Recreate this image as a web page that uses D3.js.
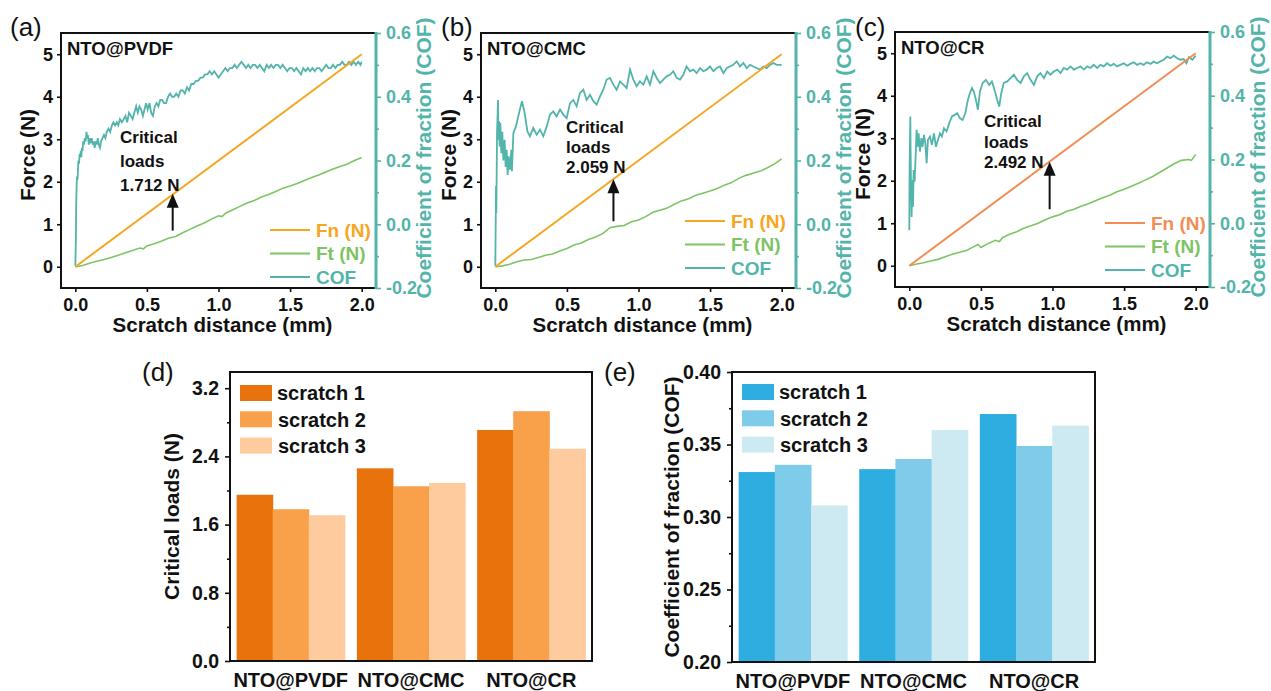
<!DOCTYPE html>
<html>
<head>
<meta charset="utf-8">
<script src="https://cdn.jsdelivr.net/npm/d3@7"></script>
<style>
body { margin: 0; background: #fff; }
svg text { font-family: "Liberation Sans", Arial, sans-serif; }
</style>
</head>
<body>
<svg id="fig" width="1271" height="691"></svg>
<script>
// ---- data ----
const binders = ["NTO@PVDF", "NTO@CMC", "NTO@CR"];
const scratchNames = ["scratch 1", "scratch 2", "scratch 3"];

// normal force ramps linearly 0 -> 5 N over 2 mm
const fnRamp = [[0, 0], [2, 5]];

// tangential force (N) vs distance (mm)
const ftPVDF = [[0,0],[0.05,0.03],[0.1,0.08],[0.15,0.13],[0.2,0.17],[0.25,0.22],[0.3,0.27],[0.35,0.33],[0.4,0.38],[0.45,0.44],[0.475,0.42],[0.5,0.49],[0.55,0.54],[0.6,0.6],[0.65,0.67],[0.7,0.71],[0.75,0.8],[0.8,0.88],[0.85,0.96],[0.9,1.03],[0.95,1.12],[1.0,1.2],[1.025,1.18],[1.05,1.26],[1.1,1.34],[1.15,1.42],[1.2,1.5],[1.25,1.56],[1.3,1.64],[1.35,1.7],[1.4,1.77],[1.45,1.85],[1.5,1.9],[1.55,1.96],[1.6,2.03],[1.65,2.1],[1.7,2.16],[1.75,2.23],[1.8,2.3],[1.85,2.36],[1.9,2.42],[1.95,2.5],[2.0,2.57]];
const ftCMC = [[0,0],[0.05,0.02],[0.1,0.06],[0.15,0.12],[0.2,0.16],[0.25,0.17],[0.3,0.22],[0.35,0.27],[0.4,0.3],[0.45,0.37],[0.5,0.43],[0.55,0.51],[0.6,0.56],[0.65,0.64],[0.7,0.7],[0.75,0.78],[0.8,0.92],[0.85,0.95],[0.9,0.97],[0.95,1.06],[1.0,1.1],[1.05,1.18],[1.1,1.28],[1.15,1.33],[1.2,1.38],[1.25,1.47],[1.3,1.55],[1.35,1.6],[1.4,1.68],[1.45,1.73],[1.5,1.78],[1.55,1.84],[1.6,1.92],[1.65,1.98],[1.7,2.08],[1.75,2.15],[1.8,2.2],[1.85,2.25],[1.9,2.33],[1.95,2.42],[2.0,2.54]];
const ftCR = [[0,0],[0.05,0.04],[0.1,0.07],[0.15,0.11],[0.2,0.15],[0.25,0.21],[0.3,0.27],[0.35,0.32],[0.4,0.36],[0.45,0.45],[0.48,0.5],[0.5,0.43],[0.55,0.52],[0.6,0.6],[0.63,0.57],[0.65,0.66],[0.7,0.74],[0.75,0.8],[0.8,0.88],[0.85,0.94],[0.9,1.0],[0.95,1.08],[1.0,1.15],[1.05,1.2],[1.1,1.28],[1.15,1.33],[1.2,1.4],[1.25,1.46],[1.3,1.53],[1.35,1.6],[1.4,1.66],[1.45,1.74],[1.5,1.8],[1.55,1.87],[1.6,1.94],[1.65,2.02],[1.7,2.1],[1.75,2.2],[1.8,2.3],[1.85,2.4],[1.9,2.48],[1.95,2.5],[1.97,2.48],[2.0,2.62]];

// coefficient of friction vs distance (mm)
const cofPVDF = [[0,-0.13],[0.004,-0.05],[0.006,0.06],[0.009,0.12],[0.012,0.15],[0.016,0.14],[0.019,0.18],[0.022,0.2],[0.026,0.19],[0.03,0.22],[0.034,0.21],[0.038,0.23],[0.042,0.21],[0.046,0.24],[0.05,0.23],[0.055,0.26],[0.06,0.25],[0.066,0.27],[0.072,0.26],[0.078,0.29],[0.083,0.27],[0.088,0.28],[0.094,0.25],[0.1,0.27],[0.107,0.26],[0.114,0.27],[0.121,0.25],[0.128,0.26],[0.135,0.24],[0.142,0.26],[0.15,0.25],[0.157,0.27],[0.164,0.25],[0.172,0.24],[0.18,0.26],[0.19,0.27],[0.2,0.28],[0.21,0.27],[0.22,0.29],[0.232,0.3],[0.244,0.29],[0.255,0.31],[0.266,0.32],[0.278,0.31],[0.29,0.32],[0.3,0.31],[0.312,0.33],[0.325,0.32],[0.338,0.33],[0.35,0.34],[0.362,0.32],[0.375,0.35],[0.388,0.34],[0.4,0.33],[0.412,0.35],[0.425,0.37],[0.436,0.35],[0.448,0.37],[0.46,0.36],[0.472,0.34],[0.483,0.36],[0.494,0.38],[0.505,0.36],[0.518,0.38],[0.53,0.35],[0.542,0.34],[0.555,0.37],[0.568,0.38],[0.58,0.37],[0.593,0.39],[0.606,0.39],[0.62,0.38],[0.634,0.38],[0.648,0.4],[0.662,0.41],[0.676,0.4],[0.69,0.4],[0.705,0.41],[0.72,0.4],[0.735,0.42],[0.75,0.42],[0.765,0.41],[0.78,0.43],[0.795,0.42],[0.81,0.44],[0.826,0.44],[0.842,0.45],[0.858,0.45],[0.874,0.46],[0.89,0.46],[0.906,0.47],[0.922,0.47],[0.938,0.48],[0.954,0.47],[0.97,0.48],[0.986,0.47],[1.0,0.46],[1.016,0.47],[1.032,0.48],[1.048,0.49],[1.064,0.48],[1.08,0.49],[1.096,0.49],[1.112,0.5],[1.128,0.49],[1.144,0.5],[1.16,0.51],[1.176,0.5],[1.192,0.49],[1.208,0.5],[1.224,0.49],[1.24,0.5],[1.256,0.5],[1.272,0.49],[1.288,0.5],[1.304,0.49],[1.32,0.48],[1.336,0.5],[1.352,0.49],[1.368,0.5],[1.384,0.49],[1.4,0.5],[1.416,0.5],[1.432,0.49],[1.448,0.5],[1.464,0.49],[1.48,0.48],[1.496,0.49],[1.512,0.49],[1.528,0.48],[1.544,0.49],[1.56,0.48],[1.576,0.47],[1.592,0.49],[1.608,0.48],[1.624,0.49],[1.64,0.48],[1.656,0.49],[1.672,0.48],[1.688,0.49],[1.704,0.49],[1.72,0.48],[1.736,0.49],[1.752,0.5],[1.768,0.49],[1.784,0.49],[1.8,0.5],[1.816,0.49],[1.832,0.5],[1.848,0.5],[1.864,0.51],[1.88,0.5],[1.896,0.5],[1.912,0.51],[1.928,0.5],[1.944,0.51],[1.96,0.5],[1.976,0.51],[1.992,0.5],[2.0,0.51]];
const cofCMC = [[0,-0.13],[0.005,0.12],[0.007,0.035],[0.012,0.286],[0.019,0.39],[0.021,0.265],[0.026,0.323],[0.03,0.244],[0.035,0.318],[0.042,0.223],[0.049,0.29],[0.056,0.2],[0.065,0.265],[0.072,0.18],[0.079,0.234],[0.086,0.155],[0.093,0.213],[0.102,0.171],[0.112,0.234],[0.116,0.166],[0.126,0.286],[0.144,0.307],[0.163,0.344],[0.186,0.386],[0.205,0.349],[0.224,0.291],[0.242,0.276],[0.265,0.302],[0.289,0.281],[0.312,0.297],[0.335,0.276],[0.359,0.307],[0.382,0.344],[0.405,0.354],[0.428,0.338],[0.452,0.36],[0.475,0.344],[0.498,0.333],[0.522,0.38],[0.545,0.39],[0.568,0.37],[0.591,0.412],[0.615,0.422],[0.638,0.39],[0.661,0.406],[0.685,0.386],[0.708,0.375],[0.731,0.401],[0.754,0.422],[0.778,0.454],[0.801,0.459],[0.824,0.438],[0.847,0.422],[0.871,0.448],[0.894,0.438],[0.917,0.427],[0.941,0.485],[0.964,0.454],[0.987,0.433],[1.01,0.448],[1.034,0.438],[1.057,0.464],[1.08,0.438],[1.104,0.48],[1.127,0.459],[1.15,0.443],[1.173,0.454],[1.197,0.464],[1.22,0.469],[1.243,0.48],[1.267,0.459],[1.29,0.454],[1.313,0.469],[1.336,0.495],[1.36,0.48],[1.383,0.485],[1.406,0.474],[1.43,0.49],[1.453,0.48],[1.476,0.485],[1.499,0.495],[1.523,0.48],[1.546,0.49],[1.569,0.495],[1.593,0.474],[1.616,0.49],[1.639,0.495],[1.662,0.5],[1.686,0.511],[1.709,0.495],[1.732,0.506],[1.756,0.49],[1.779,0.5],[1.802,0.495],[1.825,0.49],[1.849,0.485],[1.872,0.495],[1.895,0.49],[1.918,0.5],[1.942,0.506],[1.965,0.5],[2.0,0.5]];
const cofCR = [[0,-0.022],[0.002,0.177],[0.007,0.335],[0.009,0.23],[0.012,0.115],[0.016,0.02],[0.021,0.136],[0.026,0.052],[0.03,0.167],[0.037,0.13],[0.044,0.209],[0.051,0.293],[0.058,0.24],[0.065,0.282],[0.074,0.225],[0.084,0.267],[0.093,0.24],[0.102,0.277],[0.112,0.251],[0.121,0.188],[0.13,0.261],[0.144,0.272],[0.158,0.246],[0.172,0.282],[0.186,0.24],[0.2,0.261],[0.214,0.282],[0.228,0.272],[0.242,0.298],[0.26,0.288],[0.279,0.314],[0.298,0.335],[0.316,0.34],[0.335,0.345],[0.353,0.33],[0.372,0.324],[0.391,0.345],[0.409,0.387],[0.423,0.408],[0.437,0.424],[0.451,0.413],[0.465,0.387],[0.479,0.356],[0.493,0.413],[0.512,0.44],[0.535,0.45],[0.558,0.434],[0.577,0.445],[0.595,0.419],[0.614,0.387],[0.628,0.366],[0.642,0.408],[0.66,0.44],[0.684,0.445],[0.707,0.455],[0.73,0.466],[0.753,0.45],[0.777,0.44],[0.8,0.461],[0.823,0.471],[0.847,0.45],[0.87,0.434],[0.893,0.461],[0.916,0.471],[0.94,0.455],[0.963,0.476],[0.986,0.466],[1.009,0.476],[1.033,0.482],[1.056,0.471],[1.079,0.487],[1.102,0.482],[1.126,0.492],[1.149,0.482],[1.172,0.487],[1.195,0.492],[1.219,0.482],[1.242,0.492],[1.265,0.487],[1.288,0.497],[1.312,0.487],[1.335,0.497],[1.358,0.492],[1.381,0.502],[1.405,0.494],[1.428,0.5],[1.451,0.492],[1.474,0.497],[1.498,0.502],[1.521,0.494],[1.544,0.5],[1.567,0.505],[1.591,0.497],[1.614,0.502],[1.637,0.497],[1.66,0.505],[1.684,0.5],[1.707,0.507],[1.73,0.502],[1.753,0.508],[1.777,0.513],[1.8,0.523],[1.823,0.518],[1.847,0.526],[1.87,0.518],[1.893,0.513],[1.916,0.515],[1.935,0.502],[1.953,0.521],[1.977,0.513],[2.0,0.526]];

// critical load arrows: distance (mm), arrow tip and tail force (N)
const criticalLoads = ["1.712 N", "2.059 N", "2.492 N"];
const arrowX = [0.68, 0.825, 0.98];
const arrowTip = [1.72, 2.06, 2.45];
const arrowTail = [0.85, 1.07, 1.33];

// bar charts
const loadS1 = [1.95, 2.26, 2.71];
const loadS2 = [1.78, 2.05, 2.93];
const loadS3 = [1.71, 2.09, 2.49];
const cofS1 = [0.331, 0.333, 0.371];
const cofS2 = [0.336, 0.340, 0.349];
const cofS3 = [0.308, 0.360, 0.363];

const forceTicks = [0, 1, 2, 3, 4, 5];
const distTicks = [0, 0.5, 1, 1.5, 2];
const cofTicks = [-0.2, 0, 0.2, 0.4, 0.6];
const loadTicks = [0, 0.8, 1.6, 2.4, 3.2];
const cofBarTicks = [0.2, 0.25, 0.3, 0.35, 0.4];

const Teal = "#52b4aa";
const Green = "#7ec464";

const svg = d3.select("#fig");
svg.append("rect").attr("width", 1271).attr("height", 691).attr("fill", "#fff");

function styleAxis(g, color, size) {
	g.select(".domain").remove();
	g.attr("font-family", null).attr("font-size", null);
	g.selectAll("line").attr("stroke", color).attr("stroke-width", 1.6);
	g.selectAll("text").attr("fill", color).attr("font-size", size).attr("font-weight", "bold");
}

function scratchPanel(p) {
	const W = 315, H = 255;
	const g = svg.append("g");
	const x = d3.scaleLinear().domain([-0.1, 2.1]).range([p.left, p.left + W]);
	const yF = d3.scaleLinear().domain([-0.5, 5.5]).range([p.top + H, p.top]);
	const yC = d3.scaleLinear().domain([-0.2, 0.6]).range([p.top + H, p.top]);
	const line = d3.line().x(d => x(d[0]));

	// curves: COF below, forces on top
	g.append("path").attr("d", line.y(d => yC(d[1]))(p.cof)).attr("fill", "none").attr("stroke", Teal).attr("stroke-width", 1.8);
	g.append("path").attr("d", line.y(d => yF(d[1]))(p.ft)).attr("fill", "none").attr("stroke", Green).attr("stroke-width", 1.6);
	g.append("path").attr("d", line.y(d => yF(d[1]))(fnRamp)).attr("fill", "none").attr("stroke", p.fnColor).attr("stroke-width", 2);

	// frame
	g.append("rect").attr("x", p.left).attr("y", p.top).attr("width", W).attr("height", H)
		.attr("fill", "none").attr("stroke", "#111").attr("stroke-width", 2);
	g.append("line").attr("x1", p.left + W).attr("x2", p.left + W).attr("y1", p.top - 1).attr("y2", p.top + H + 1)
		.attr("stroke", Teal).attr("stroke-width", 3);

	// axes
	g.append("g").attr("transform", `translate(0,${p.top + H})`)
		.call(d3.axisBottom(x).tickValues(distTicks).tickFormat(d => d.toFixed(1)).tickSize(4).tickPadding(6))
		.call(a => styleAxis(a, "#111", "18px"));
	g.append("g").attr("transform", `translate(${p.left},0)`)
		.call(d3.axisLeft(yF).tickValues(forceTicks).tickFormat(d => String(d)).tickSize(4).tickPadding(4))
		.call(a => styleAxis(a, "#111", "18px"));
	g.append("g").attr("transform", `translate(${p.left + W},0)`)
		.call(d3.axisRight(yC).tickValues(cofTicks).tickFormat(d => d.toFixed(1)).tickSize(5).tickPadding(5))
		.call(a => styleAxis(a, Teal, "18px"));
	g.append("g").attr("transform", `translate(${p.left + W},0)`)
		.call(d3.axisRight(yC).tickValues([-0.1, 0.1, 0.3, 0.5]).tickFormat("").tickSize(3))
		.call(a => styleAxis(a, Teal, "18px"));

	// titles
	g.append("text").attr("x", p.left + W / 2 + 4).attr("y", p.top + H + 44).attr("text-anchor", "middle")
		.attr("font-size", "20.5px").attr("font-weight", "bold").attr("fill", "#111").text("Scratch distance (mm)");
	g.append("text").attr("transform", `translate(${p.forceX},${p.top + 122}) rotate(-90)`).attr("dy", "0.35em")
		.attr("text-anchor", "middle").attr("font-size", "21px").attr("font-weight", "bold").attr("fill", "#111").text("Force (N)");
	g.append("text").attr("transform", `translate(${p.left + W + 48},${p.top + 125}) rotate(-90)`).attr("dy", "0.35em")
		.attr("text-anchor", "middle").attr("font-size", "21px").attr("font-weight", "bold").attr("fill", Teal).text("Coefficient of fraction (COF)");
	g.append("text").attr("x", p.labelX).attr("y", 36).attr("font-size", "26px").attr("fill", "#111").text(p.label);
	g.append("text").attr("x", p.left + 6).attr("y", p.top + 22).attr("font-size", "18.5px").attr("font-weight", "bold")
		.attr("fill", "#111").text(p.name);

	// critical load note and arrow
	const note = g.append("text").attr("x", p.noteX).attr("font-size", "17px").attr("font-weight", "bold").attr("fill", "#111");
	["Critical", "loads", criticalLoads[p.i]].forEach((t, k) => {
		note.append("tspan").attr("x", p.noteX).attr("y", p.noteY + k * p.noteGap).text(t);
	});
	const ax = x(arrowX[p.i]), tip = yF(arrowTip[p.i]), tail = yF(arrowTail[p.i]);
	g.append("line").attr("x1", ax).attr("x2", ax).attr("y1", tail).attr("y2", tip + 10).attr("stroke", "#111").attr("stroke-width", 2);
	g.append("path").attr("d", `M${ax},${tip}L${ax - 6},${tip + 14}L${ax + 6},${tip + 14}Z`).attr("fill", "#111");

	// legend
	const leg = g.append("g").attr("transform", `translate(${p.left + p.legX},${p.top + p.legY})`);
	[["Fn (N)", p.fnColor], ["Ft (N)", Green], ["COF", Teal]].forEach((d, k) => {
		leg.append("line").attr("x1", 0).attr("x2", 40).attr("y1", k * 23.5).attr("y2", k * 23.5)
			.attr("stroke", d[1]).attr("stroke-width", 1.8);
		leg.append("text").attr("x", 46).attr("y", k * 23.5).attr("dy", "0.36em").attr("font-size", "19px")
			.attr("font-weight", "bold").attr("fill", d[1]).text(d[0]);
	});
}

scratchPanel({ i: 0, left: 61, top: 33, label: "(a)", labelX: 10, name: "NTO@PVDF", forceX: 28, fnColor: "#f5a623",
	ft: ftPVDF, cof: cofPVDF, noteX: 120, noteY: 143, noteGap: 24, legX: 209, legY: 197 });
scratchPanel({ i: 1, left: 481, top: 33, label: "(b)", labelX: 441, name: "NTO@CMC", forceX: 449, fnColor: "#f5a623",
	ft: ftCMC, cof: cofCMC, noteX: 566, noteY: 133, noteGap: 20, legX: 204, legY: 188 });
scratchPanel({ i: 2, left: 895, top: 32, label: "(c)", labelX: 855, name: "NTO@CR", forceX: 863, fnColor: "#f28e55",
	ft: ftCR, cof: cofCR, noteX: 984, noteY: 127, noteGap: 20.5, legX: 210, legY: 191 });

function barPanel(p) {
	const g = svg.append("g");
	const series = p.series;
	const x0 = d3.scaleBand().domain(binders).range([p.left, p.right]).paddingInner(0.1).paddingOuter(0.055);
	const x1 = d3.scaleBand().domain([0, 1, 2]).range([0, x0.bandwidth()]);
	const y = d3.scaleLinear().domain(p.domain).range([p.bottom, p.top]);

	binders.forEach((b, i) => {
		g.selectAll(null).data(series).enter().append("rect")
			.attr("x", (s, k) => x0(b) + x1(k)).attr("width", x1.bandwidth() + 0.5)
			.attr("y", s => y(s[i])).attr("height", s => y(p.domain[0]) - y(s[i]))
			.attr("fill", (s, k) => p.colors[k]);
	});

	g.append("rect").attr("x", p.left).attr("y", p.top).attr("width", p.right - p.left).attr("height", p.bottom - p.top)
		.attr("fill", "none").attr("stroke", "#111").attr("stroke-width", 2);
	g.append("g").attr("transform", `translate(${p.left},0)`)
		.call(d3.axisLeft(y).tickValues(p.ticks).tickFormat(d => d.toFixed(p.digits)).tickSize(5).tickPadding(6))
		.call(a => styleAxis(a, "#111", "19.5px"));
	g.append("g").attr("transform", `translate(${p.left},0)`)
		.call(d3.axisLeft(y).tickValues(p.minor).tickFormat("").tickSize(3))
		.call(a => styleAxis(a, "#111", "19px"));
	g.append("g").attr("transform", `translate(0,${p.bottom})`)
		.call(d3.axisBottom(x0).tickSize(0).tickPadding(12))
		.call(a => styleAxis(a, "#111", "20px"));

	g.append("text").attr("transform", `translate(${p.titleX},${(p.top + p.bottom) / 2}) rotate(-90)`).attr("dy", "0.35em")
		.attr("text-anchor", "middle").attr("font-size", "21px").attr("font-weight", "bold").attr("fill", "#111").text(p.title);
	g.append("text").attr("x", p.labelX).attr("y", 381).attr("font-size", "26px").attr("fill", "#111").text(p.label);

	const leg = g.append("g").attr("transform", `translate(${p.left + 10},${p.top + p.legY})`);
	scratchNames.forEach((n, k) => {
		leg.append("rect").attr("x", 0).attr("y", k * 26.3 - 8).attr("width", 32).attr("height", 16).attr("fill", p.colors[k]);
		leg.append("text").attr("x", 37 + (k ? 1 : 0)).attr("y", k * 26.3).attr("dy", "0.36em").attr("font-size", "20px")
			.attr("font-weight", "bold").attr("fill", "#111").text(n);
	});
}

barPanel({ left: 230, right: 592, top: 372, bottom: 661, domain: [0, 3.39], series: [loadS1, loadS2, loadS3],
	colors: ["#e8720c", "#f9a04b", "#fdcb9d"], ticks: loadTicks, minor: [0.4, 1.2, 2.0, 2.8], digits: 1,
	title: "Critical loads (N)", titleX: 172, label: "(d)", labelX: 142, legY: 21 });
barPanel({ left: 732, right: 1095, top: 372, bottom: 662, domain: [0.2, 0.4], series: [cofS1, cofS2, cofS3],
	colors: ["#2eaee0", "#7ecbea", "#cdeaf3"], ticks: cofBarTicks, minor: [0.225, 0.275, 0.325, 0.375], digits: 2,
	title: "Coefficient of fraction (COF)", titleX: 672, label: "(e)", labelX: 604, legY: 20 });
</script>
</body>
</html>
